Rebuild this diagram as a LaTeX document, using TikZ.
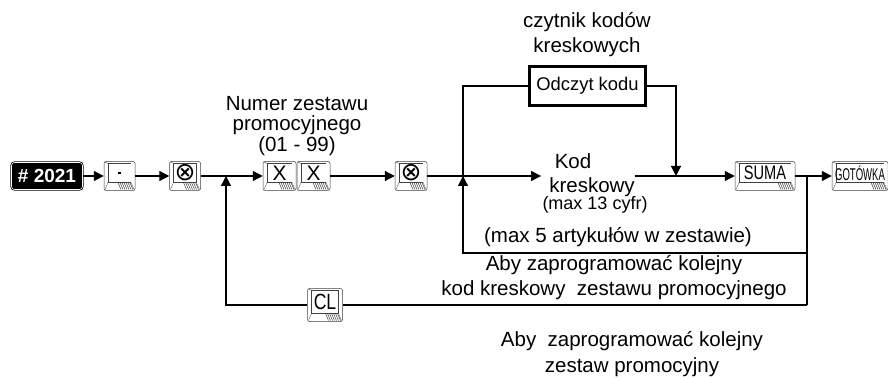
\documentclass[tikz,border=0pt]{standalone}
\usepackage{fontspec}
\setmainfont{Liberation Sans}
\newfontfamily\symfont{DejaVu Sans}
\usetikzlibrary{arrows.meta, positioning}
\tikzstyle{wire} = [line width=1.2pt]
\tikzstyle{arrow} = [line width=1.2pt,-{Triangle[length=10pt,width=10pt]}]
\tikzstyle{txt} = [inner sep=0pt, align=center, font=\fontsize{20.5}{24}\selectfont]
\tikzstyle{hashbox} = [fill=black, draw=black, double=white, double distance=0.6pt, line width=0.8pt, rounded corners=3pt, text=white, font=\bfseries\fontsize{19}{19}\selectfont, minimum width=71pt, minimum height=27pt, inner sep=0pt]
\tikzstyle{reader} = [draw, line width=2.4pt, minimum width=116pt, minimum height=39pt, inner sep=0pt, font=\fontsize{18.4}{20}\selectfont]
\tikzstyle{key} = [draw=black!75, line width=0.5pt, fill=white, rounded corners=2pt, inner sep=0pt, minimum height=29pt,
  path picture={
    \begin{scope}[sharp corners, line width=0.7pt]
      \path (path picture bounding box.north west) coordinate (kNW)
            (path picture bounding box.north east) coordinate (kNE)
            (path picture bounding box.south west) coordinate (kSW)
            (path picture bounding box.south east) coordinate (kSE);
      % face of the key
      \draw ([xshift=4pt,yshift=-2pt]kNW) rectangle ([xshift=-4pt,yshift=8pt]kSE);
      % dark right side
      \fill ([xshift=-4pt,yshift=-2pt]kNE) rectangle ([xshift=-1pt,yshift=3pt]kSE);
      % bevel lines
      \draw[line width=0.3pt] (kNW) -- ([xshift=4pt,yshift=-2pt]kNW);
      \draw[line width=0.3pt] ([xshift=4pt,yshift=8pt]kSW) -- ([xshift=1pt,yshift=1pt]kSW);
      \draw[line width=0.3pt] ([xshift=-4pt,yshift=8pt]kSE) -- ([xshift=-1pt,yshift=1pt]kSE);
      % hatching
      \foreach \h in {5,7,...,17}
        \draw[line width=0.5pt] ([xshift=-\h*1pt,yshift=8pt]kSE) -- ++(3pt,-7pt);
    \end{scope}
  }]
\newcommand{\keyfont}{\fontsize{21}{21}\selectfont}
\newcommand{\otimeskey}{{\symfont\fontsize{25}{25}\selectfont ⊗}}

\begin{document}
\begin{tikzpicture}[x=1pt, y=-1pt]
    \useasboundingbox (0,0) rectangle (888,379);

    % Texts
    \node[txt, font=\fontsize{20.5}{20.5}\selectfont] (numer) at (297,126) {Numer zestawu\\promocyjnego\\(01 - 99)};
    \node[txt, font=\fontsize{20.5}{25}\selectfont] (czytnik) at (587,35) {czytnik kodów\\kreskowych};
    \node[txt] (kod) at (573,161) {Kod};
    \node[txt] (kresk) at (592,187) {kreskowy};
    \node[txt, font=\fontsize{18}{18}\selectfont] (max13) at (595,205) {(max 13 cyfr)};
    \node[txt] (max5) at (618,237) {(max 5 artykułów w zestawie)};
    \node[txt, font=\fontsize{20.5}{25}\selectfont] (aby1) at (614,278) {Aby zaprogramować kolejny\\kod kreskowy\ \ zestawu promocyjnego};
    \node[txt, font=\fontsize{20.5}{26}\selectfont] (aby2) at (632,354) {Aby\ \ zaprogramować kolejny\\zestaw promocyjny};

    % Keys
    \node[hashbox] (n2021) at (47,176) {\# 2021};
    \node[key, minimum width=31pt, label={[yshift=3pt]center:\rule{2.2pt}{2.2pt}}] (kdot) at (119.5,176) {};
    \node[key, minimum width=31pt, label={[yshift=3pt]center:\otimeskey}] (kc1) at (185,176) {};
    \node[key, minimum width=33pt, label={[yshift=3pt, font=\keyfont]center:X}] (kx1) at (279.5,176) {};
    \node[key, minimum width=33pt, label={[yshift=3pt, font=\keyfont]center:X}] (kx2) at (313.5,176) {};
    \node[key, minimum width=32pt, label={[yshift=3pt]center:\otimeskey}] (kc2) at (411,176) {};
    \node[key, minimum width=60pt, label={[yshift=3pt, font=\fontsize{19.5}{19.5}\selectfont]center:\scalebox{0.75}[1]{SUMA}}] (ksuma) at (765,176) {};
    \node[key, minimum width=56pt, label={[yshift=3pt, font=\fontsize{17}{17}\selectfont]center:\scalebox{0.56}[1]{GOTÓWKA}}] (kgot) at (860,176) {};
    \node[key, minimum width=35pt, minimum height=33pt, label={[yshift=3pt, font=\fontsize{22}{22}\selectfont]center:\scalebox{0.8}[1]{CL}}] (kcl) at (325,305) {};

    % Barcode reader
    \node[reader] (reader) at (587.5,86) {Odczyt kodu};

    % Junctions
    \coordinate (j1) at (226,176);
    \coordinate (j2) at (463,176);
    \coordinate (j3) at (676,176);
    \coordinate (j4) at (807,176);
    \coordinate (lp5) at (807,253);
    \coordinate (lcl) at (807,305);

    % Main line
    \draw[arrow] (n2021) -- (kdot);
    \draw[arrow] (kdot) -- (kc1);
    \draw[wire] (kc1) -- (j1);
    \draw[arrow] (j1) -- (kx1);
    \draw[arrow] (kx2) -- (kc2);
    \draw[wire] (kc2) -- (j2);
    \draw[arrow, shorten >=8pt] (j2) -- (j2 -| kresk.west);
    \draw[arrow] (j2 -| kresk.east) -- (ksuma);
    \draw[wire] (ksuma) -- (j4);
    \draw[arrow] (j4) -- (kgot);

    % Reader branch
    \draw[wire] (j2) |- (reader);
    \draw[arrow] (reader) -| (j3);

    % Loops back
    \draw[wire] (j4) -- (lcl);
    \draw[arrow] (lp5) -| (j2);
    \draw[wire] (lcl) -- (kcl);
    \draw[arrow] (kcl) -| (j1);
\end{tikzpicture}
\end{document}
